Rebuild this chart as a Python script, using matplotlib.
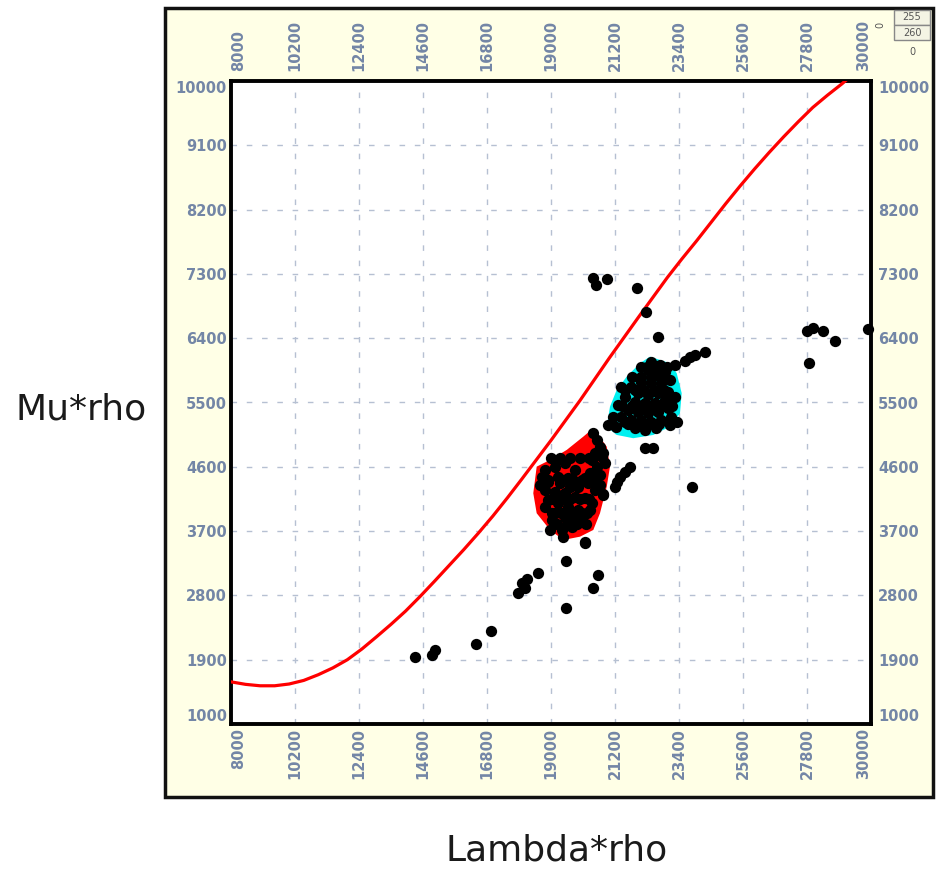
import matplotlib
matplotlib.use("Agg")
import matplotlib.pyplot as plt
from matplotlib.patches import Rectangle

# ---- data ----
x_ticks = [8000, 10200, 12400, 14600, 16800, 19000, 21200, 23400, 25600, 27800, 30000]
y_ticks = [1000, 1900, 2800, 3700, 4600, 5500, 6400, 7300, 8200, 9100, 10000]

# red trend curve
curve_lam = [8000, 8500, 9000, 9500, 10000, 10500, 11000, 11500, 12000, 12500, 13000,
             13500, 14000, 14500, 15000, 15500, 16000, 16500, 17000, 17500, 18000, 18500,
             19000, 19500, 20000, 20500, 21000, 21500, 22000, 22500, 23000, 23500, 24000,
             24500, 25000, 25500, 26000, 26500, 27000, 27500, 28000, 28500, 29000, 29400]
curve_mu = [1590, 1555, 1535, 1535, 1560, 1610, 1690, 1785, 1900, 2050, 2220,
            2395, 2580, 2785, 3000, 3220, 3440, 3670, 3910, 4165, 4430, 4700,
            4970, 5250, 5530, 5825, 6120, 6405, 6690, 6970, 7250, 7510, 7760,
            8020, 8280, 8530, 8770, 9000, 9220, 9430, 9630, 9800, 9960, 10100]

# red polygon
red_lam = [20454, 20915, 21028, 20915, 20684, 20454, 19997, 19423, 18966, 18508, 18391,
           18508, 18966, 19540, 20110]
red_mu = [5140, 4882, 4602, 4322, 3950, 3716, 3622, 3576, 3716, 3950, 4230,
          4602, 4696, 4836, 5022]

# cyan polygon
cyan_lam = [22403, 23091, 23321, 23493, 23434, 23091, 22517, 21829, 21258, 20915, 21028,
            21258, 21602, 22059]
cyan_mu = [6142, 6050, 5910, 5630, 5350, 5162, 5046, 5000, 5046, 5162, 5442,
           5676, 5862, 6050]

# points inside the red polygon
red_pts_lam = [20455, 20569, 20684, 20512, 20741, 20398, 20569, 20340, 20684, 20168,
               19825, 19481, 19137, 18793, 18679, 18908, 19252, 19596, 19940, 20283,
               20512, 20799, 18793, 19137, 19481, 19825, 20168, 20398, 18908, 19252,
               19596, 19940, 19137, 19481, 19825, 19023, 19366, 19424, 20168, 18793,
               18622, 20054, 19710, 18965, 20340, 20799, 20856, 20684, 19309, 19653,
               19000, 19300, 19650, 20000, 20300,
               18900, 19400, 19750, 20050, 20450,
               19000, 19350, 19650, 20000, 20300,
               19050, 19350, 19700, 20050, 20250,
               19200, 19550, 19900, 20200]
red_pts_mu = [5069, 4976, 4883, 4789, 4743, 4696, 4603, 4509, 4486, 4439,
              4556, 4649, 4603, 4556, 4463, 4393, 4463, 4439, 4323, 4369,
              4276, 4206, 4276, 4253, 4229, 4183, 4159, 4089, 4136, 4089,
              4043, 3996, 3949, 3903, 3856, 3856, 3716, 3623, 3553, 4043,
              4346, 3903, 3763, 3716, 3996, 4789, 4649, 4346, 4369, 4323,
              4720, 4720, 4720, 4720, 4720,
              4420, 4420, 4420, 4420, 4420,
              4150, 4150, 4150, 4150, 4150,
              3950, 3950, 3950, 3950, 3950,
              3800, 3800, 3800, 3800]

# points inside the cyan polygon
cyan_pts_lam = [22449, 22736, 22908, 22621, 22335, 23080, 22794, 22449, 22106, 21762,
                21418, 21991, 22335, 22678, 23022, 23251, 22908, 22564, 22220, 21876,
                21533, 21303, 21647, 21991, 22335, 22678, 23022, 23136, 22794, 22449,
                22106, 21762, 21418, 21132, 20960, 21876, 22220, 22621, 23080, 23251,
                21533, 21246,
                22100, 22300, 22600, 23000,
                21800, 22100, 22450, 22800,
                21550, 21900, 22200, 22550, 22900,
                21450, 21800, 22100, 22450, 22800, 23150,
                21650, 22000, 22350, 22700]
cyan_pts_mu = [6073, 6026, 5933, 5886, 5956, 5816, 5769, 5769, 5793, 5723,
               5723, 5629, 5606, 5629, 5653, 5583, 5536, 5489, 5489, 5513,
               5583, 5466, 5396, 5373, 5349, 5373, 5419, 5303, 5256, 5233,
               5256, 5256, 5303, 5303, 5186, 5139, 5116, 5139, 5186, 6026,
               5233, 5163,
               6000, 6000, 6000, 6000,
               5850, 5850, 5850, 5850,
               5680, 5680, 5680, 5680, 5680,
               5450, 5450, 5450, 5450, 5450, 5450,
               5200, 5200, 5200, 5200]

# scattered points outside the polygons
other_lam = [20454, 20547, 20915, 21946, 22266, 22668, 23606, 23780, 23950, 24294,
             27790, 28017, 28361, 28764, 27876, 29907, 23321, 23837,
             14325, 14899, 15012, 16422, 16927, 17876, 17993, 18165, 18106, 18563,
             19505, 19505, 20454, 20626, 20169, 22231, 22517, 21716, 21544, 21372,
             21259, 21200, 20798]
other_mu = [7240, 7146, 7226, 7100, 6772, 6414, 6082, 6130, 6166, 6212,
            6502, 6540, 6502, 6362, 6050, 6530, 5232, 4322,
            1942, 1966, 2036, 2120, 2306, 2838, 2970, 3026, 2900, 3118,
            3286, 2628, 2900, 3086, 3530, 4860, 4860, 4602, 4532, 4462,
            4392, 4322, 4220]

tick_color = "#7386a6"
W, H = 936, 871

fig = plt.figure(figsize=(W / 100, H / 100), dpi=100)
fig.patch.set_facecolor("white")

# outer pale yellow panel (behind the axes)
fig.patches.append(Rectangle((165 / W, 1 - 797 / H), 768 / W, 789 / H,
                             transform=fig.transFigure, facecolor="#ffffe6",
                             edgecolor="#111111", lw=2.5, zorder=-10))

ax = fig.add_axes([231 / W, 1 - 724 / H, 640 / W, 643 / H])
ax.set_facecolor("white")
ax.set_xlim(8000, 30000)
ax.set_ylim(1000, 10000)

ax.fill(red_lam, red_mu, color="#ff0000", lw=0, zorder=2)
ax.fill(cyan_lam, cyan_mu, color="#00f0f0", lw=0, zorder=2)
ax.plot(curve_lam, curve_mu, color="#ff0000", lw=2.3, zorder=3)
ax.scatter(red_pts_lam + cyan_pts_lam + other_lam, red_pts_mu + cyan_pts_mu + other_mu,
           s=66, c="black", lw=0, zorder=4, clip_on=False)

ax.set_xticks(x_ticks)
ax.set_yticks(y_ticks)
ax.grid(True, color="#b6c0d2", linestyle=(0, (4, 7)), lw=1.0)
ax.set_axisbelow(True)
for s in ax.spines.values():
    s.set_linewidth(2.8)
    s.set_color("black")

lab_font = dict(family="DejaVu Sans", weight="bold", size=10.5, color=tick_color)
ax.tick_params(length=0)
ax.set_xticklabels([str(v) for v in x_ticks], rotation=90, fontdict=lab_font)
ax.set_yticklabels([str(v) for v in y_ticks], fontdict=lab_font)
ax.tick_params(axis="x", pad=3)
ax.tick_params(axis="y", pad=3)
lx = ax.get_xticklabels()
lx[0].set_ha("left")
lx[-1].set_ha("right")
ly = ax.get_yticklabels()
ly[0].set_va("bottom")
ly[-1].set_va("top")

# labels on top and right
top = ax.secondary_xaxis("top")
top.set_xticks(x_ticks)
top.set_xticklabels([str(v) for v in x_ticks], rotation=90, fontdict=lab_font)
top.tick_params(length=0, pad=7)
top.spines["top"].set_visible(False)
tx = top.get_xticklabels()
tx[0].set_ha("left")
tx[-1].set_ha("right")

right = ax.secondary_yaxis("right")
right.set_yticks(y_ticks)
right.set_yticklabels([str(v) for v in y_ticks], fontdict=lab_font)
right.tick_params(length=0, pad=5)
right.spines["right"].set_visible(False)
ry = right.get_yticklabels()
ry[0].set_va("bottom")
ry[-1].set_va("top")

# axis titles
fig.text(81 / W, 1 - 410 / H, "Mu*rho", fontsize=26, ha="center", va="center", color="#1a1a1a")
fig.text(557 / W, 1 - 850 / H, "Lambda*rho", fontsize=26, ha="center", va="center", color="#1a1a1a")

# small widget in the top right corner
fig.patches.append(Rectangle((894 / W, 1 - 25 / H), 36 / W, 15 / H, transform=fig.transFigure,
                             facecolor="#f4f4e4", edgecolor="#888888", lw=1, zorder=3))
fig.patches.append(Rectangle((894 / W, 1 - 40 / H), 36 / W, 15 / H, transform=fig.transFigure,
                             facecolor="#f4f4e4", edgecolor="#888888", lw=1, zorder=3))
fig.text(912 / W, 1 - 17.5 / H, "255", fontsize=7, ha="center", va="center", color="#555555")
fig.text(912 / W, 1 - 32.5 / H, "260", fontsize=7, ha="center", va="center", color="#555555")
fig.text(880 / W, 1 - 25 / H, "0", fontsize=7, rotation=90, ha="center", va="center", color="#555555")
fig.text(912 / W, 1 - 52 / H, "0", fontsize=7, ha="center", va="center", color="#555555")

fig.savefig("out.png", dpi=100)
